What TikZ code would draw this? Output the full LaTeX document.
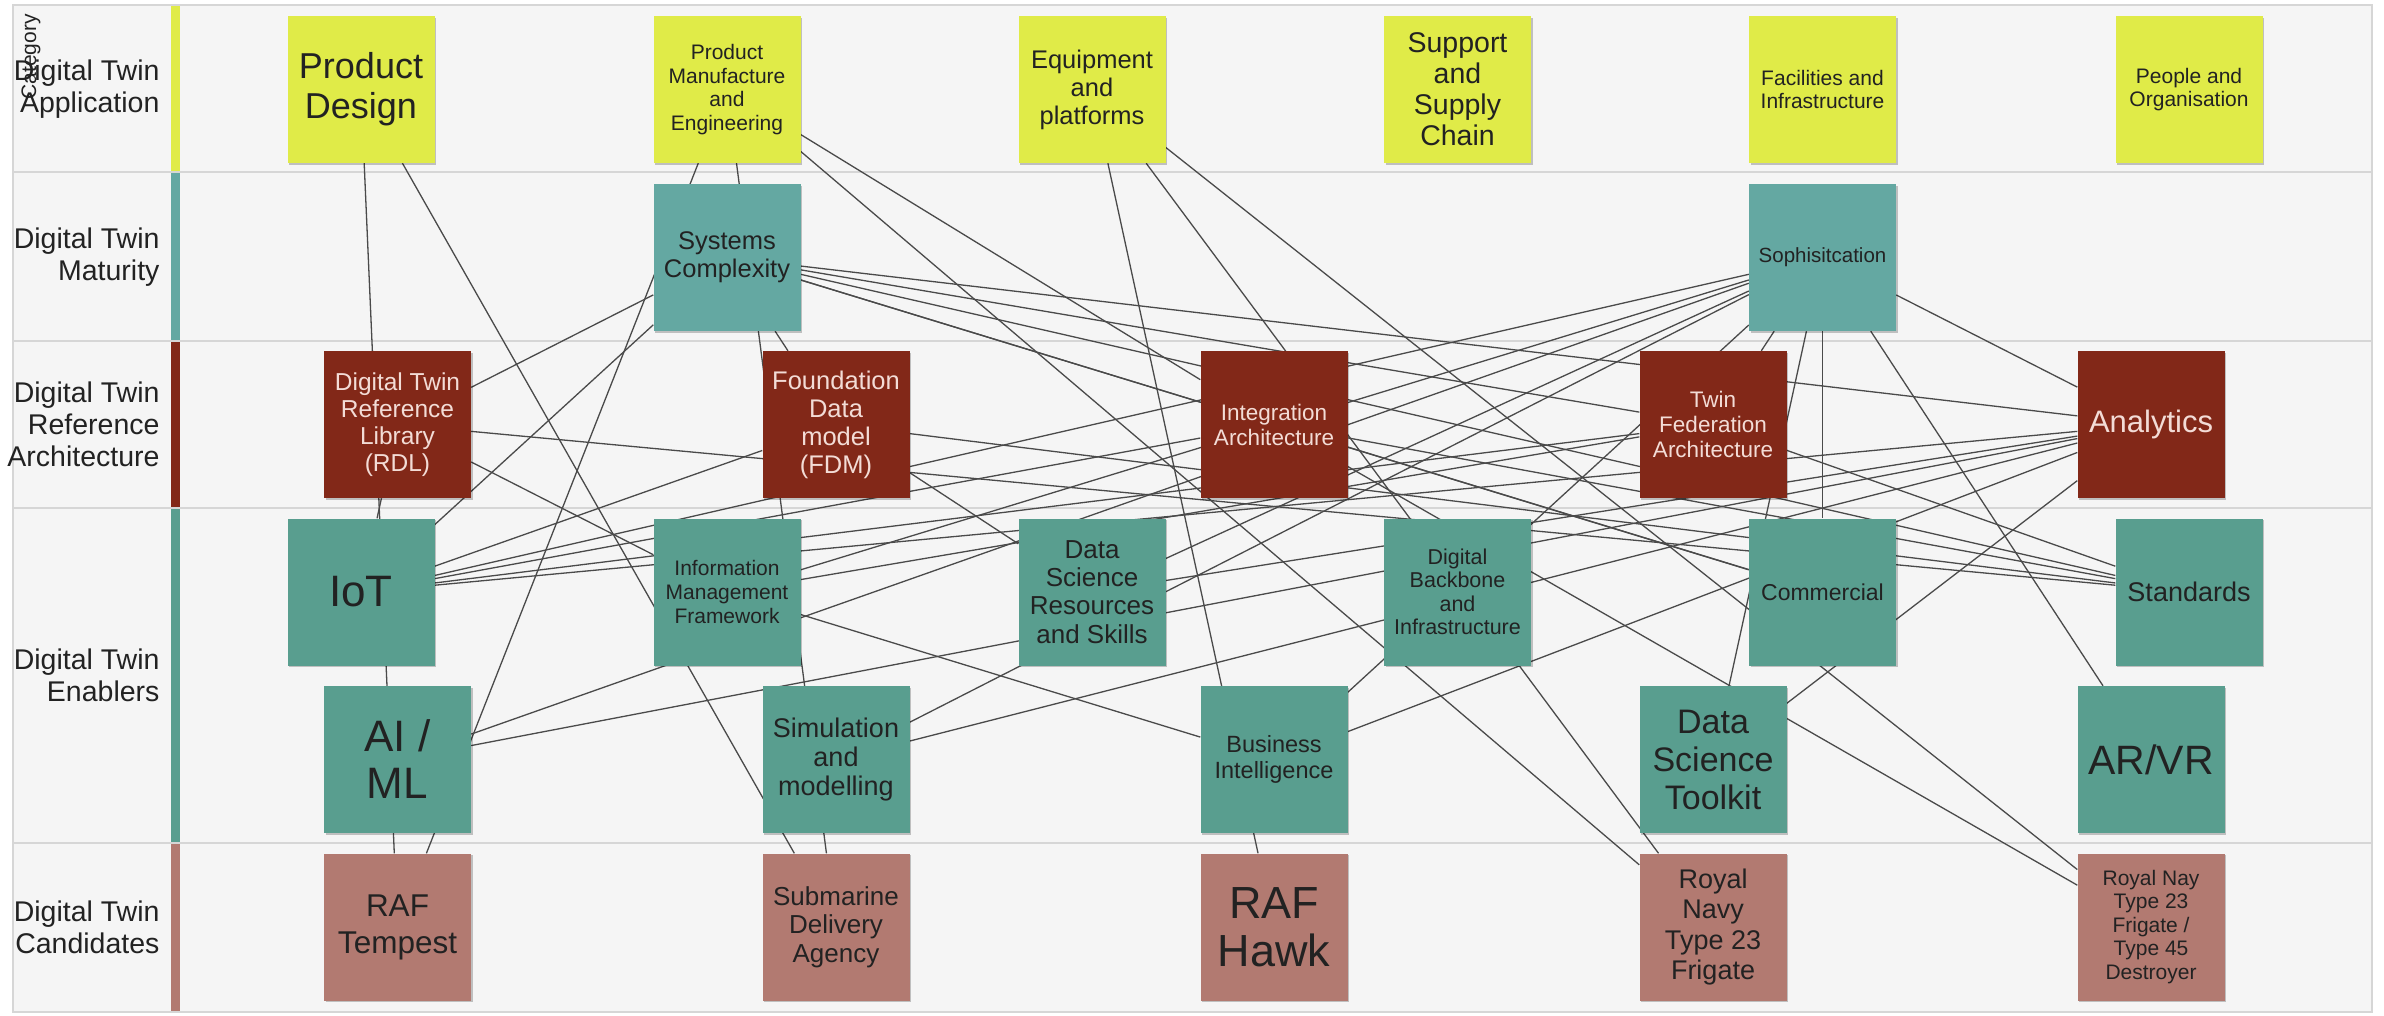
\documentclass[tikz,border=0pt]{standalone}
\usepackage{fontspec}
\setmainfont{Liberation Sans}
\usetikzlibrary{shadows}
\pgfdeclarelayer{back}
\pgfdeclarelayer{edges}
\pgfsetlayers{back,edges,main}
\definecolor{appY}{HTML}{E0EB48}
\definecolor{matT}{HTML}{64A8A2}
\definecolor{refR}{HTML}{822818}
\definecolor{enT}{HTML}{599E8F}
\definecolor{canP}{HTML}{B27A71}
\definecolor{panel}{HTML}{F5F5F5}
\definecolor{rulec}{HTML}{D6D6D6}
\definecolor{darktxt}{HTML}{222222}
\definecolor{lighttxt}{HTML}{F3DCD6}
\definecolor{edgec}{HTML}{4A4A4A}
\newcommand\bxf[2]{\fontsize{#1}{#2}\selectfont}
\tikzset{
  box/.style={rectangle, minimum width=147pt, minimum height=147pt, inner sep=2pt, align=center, text=darktxt,
    drop shadow={shadow xshift=1.5pt, shadow yshift=-1.5pt, opacity=0.22, fill=black}},
  appbox/.style={box, fill=appY},
  matbox/.style={box, fill=matT},
  refbox/.style={box, fill=refR, text=lighttxt},
  enbox/.style={box, fill=enT},
  canbox/.style={box, fill=canP},
  link/.style={draw=edgec, line width=1.3pt},
  rowlabel/.style={anchor=east, align=right, font={\bxf{28.5}{32}}, text=darktxt},
}
\begin{document}
\begin{tikzpicture}[x=1pt, y=-1pt]
\useasboundingbox (0,0) rectangle (2384,1015);
% ---------- boxes ----------
\node[appbox, font={\bxf{36}{40}}] (PD) at (361,89.5) {Product\\Design};
\node[appbox, font={\bxf{21}{23.5}}] (PME) at (727,89.5) {Product\\Manufacture\\and\\Engineering};
\node[appbox, font={\bxf{25.5}{28}}] (EQ) at (1092,89.5) {Equipment\\and\\platforms};
\node[appbox, font={\bxf{28.5}{31}}] (SUP) at (1457.5,89.5) {Support\\and\\Supply\\Chain};
\node[appbox, font={\bxf{21}{23.5}}] (FAC) at (1822.5,89.5) {Facilities and\\Infrastructure};
\node[appbox, font={\bxf{21}{23.5}}] (PEO) at (2189,89.5) {People and\\Organisation};
\node[matbox, font={\bxf{25.5}{28}}] (SC) at (727,257.5) {Systems\\Complexity};
\node[matbox, font={\bxf{20.5}{23}}] (SOPH) at (1822.5,257.5) {Sophisitcation};
\node[refbox, font={\bxf{24.5}{27}}] (RDL) at (397.5,424.5) {Digital Twin\\Reference\\Library\\(RDL)};
\node[refbox, font={\bxf{25.5}{28}}] (FDM) at (836,424.5) {Foundation\\Data\\model\\(FDM)};
\node[refbox, font={\bxf{22.5}{25}}] (INT) at (1274,424.5) {Integration\\Architecture};
\node[refbox, font={\bxf{22.5}{25}}] (TFA) at (1713,424.5) {Twin\\Federation\\Architecture};
\node[refbox, font={\bxf{31}{35}}] (AN) at (2151,424.5) {Analytics};
\node[enbox, font={\bxf{44}{48}}] (IOT) at (361,592) {IoT};
\node[enbox, font={\bxf{21}{23.7}}] (IMF) at (727,592) {Information\\Management\\Framework};
\node[enbox, font={\bxf{26}{28.3}}] (DSRS) at (1092,592) {Data\\Science\\Resources\\and Skills};
\node[enbox, font={\bxf{21.5}{23.5}}] (DBI) at (1457.5,592) {Digital\\Backbone\\and\\Infrastructure};
\node[enbox, font={\bxf{23}{26}}] (COM) at (1822.5,592) {Commercial};
\node[enbox, font={\bxf{27}{30}}] (STD) at (2189,592) {Standards};
\node[enbox, font={\bxf{44}{47}}] (AIML) at (397.5,759.5) {AI /\\ML};
\node[enbox, font={\bxf{27}{29}}] (SIM) at (836,759.5) {Simulation\\and\\modelling};
\node[enbox, font={\bxf{23.5}{26.5}}] (BI) at (1274,759.5) {Business\\Intelligence};
\node[enbox, font={\bxf{34}{38}}] (DST) at (1713,759.5) {Data\\Science\\Toolkit};
\node[enbox, font={\bxf{41}{45}}] (ARVR) at (2151,759.5) {AR/VR};
\node[canbox, font={\bxf{31.5}{37}}] (RAFT) at (397.5,927) {RAF\\Tempest};
\node[canbox, font={\bxf{26}{28.5}}] (SDA) at (836,927) {Submarine\\Delivery\\Agency};
\node[canbox, font={\bxf{45}{48}}] (HAWK) at (1274,927) {RAF\\Hawk};
\node[canbox, font={\bxf{27}{30.5}}] (RN23) at (1713,927) {Royal\\Navy\\Type 23\\Frigate};
\node[canbox, font={\bxf{21}{23.5}}] (RN45) at (2151,927) {Royal Nay\\Type 23\\Frigate /\\Type 45\\Destroyer};
% ---------- row labels ----------
\node[rowlabel] (L1) at (163,89) {Digital Twin\\Application};
\node[rowlabel] (L2) at (163,257) {Digital Twin\\Maturity};
\node[rowlabel] (L3) at (163,424) {Digital Twin\\Reference\\Architecture};
\node[rowlabel] (L4) at (163,675) {Digital Twin\\Enablers};
\node[rowlabel] (L5) at (163,927) {Digital Twin\\Candidates};
\node[rotate=90, font={\bxf{21}{24}}, text=darktxt] (CAT) at (31,57) {Category};
% ---------- background ----------
\begin{pgfonlayer}{back}
\fill[white] (0,0) rectangle (2384,1015);
\draw[draw=rulec, fill=panel, line width=2pt] (13,5) rectangle (2372,1012);
\foreach \yy in {172,341,508,843} \draw[draw=rulec, line width=2pt] (13,\yy) -- (2372,\yy);
\fill[appY] (171,6) rectangle (180,171);
\fill[matT] (171,173) rectangle (180,340);
\fill[refR] (171,342) rectangle (180,507);
\fill[enT] (171,509) rectangle (180,842);
\fill[canP] (171,844) rectangle (180,1011);
\end{pgfonlayer}
% ---------- connectors ----------
\begin{pgfonlayer}{edges}
\foreach \a/\b in {PD/RAFT, PD/SDA,
  PME/RAFT, PME/SDA, PME/INT, PME/RN23,
  EQ/HAWK, EQ/RN23, EQ/RN45,
  SC/RDL, SC/IOT, SC/FDM, SC/INT, SC/COM, SC/TFA, SC/AN, SC/STD,
  SOPH/IOT, SOPH/IMF, SOPH/AIML, SOPH/DSRS, SOPH/SIM, SOPH/BI, SOPH/TFA, SOPH/DST, SOPH/COM, SOPH/ARVR, SOPH/AN,
  RDL/IOT, RDL/IMF, RDL/STD,
  FDM/IOT, FDM/DSRS, FDM/STD,
  INT/IOT, INT/COM, INT/STD, INT/RN45,
  TFA/IOT, TFA/IMF, TFA/STD,
  AN/IOT, AN/DSRS, AN/AIML, AN/SIM, AN/BI, AN/DST,
  IMF/BI}
  \draw[link] (\a) -- (\b);
\end{pgfonlayer}
\end{tikzpicture}
\end{document}
